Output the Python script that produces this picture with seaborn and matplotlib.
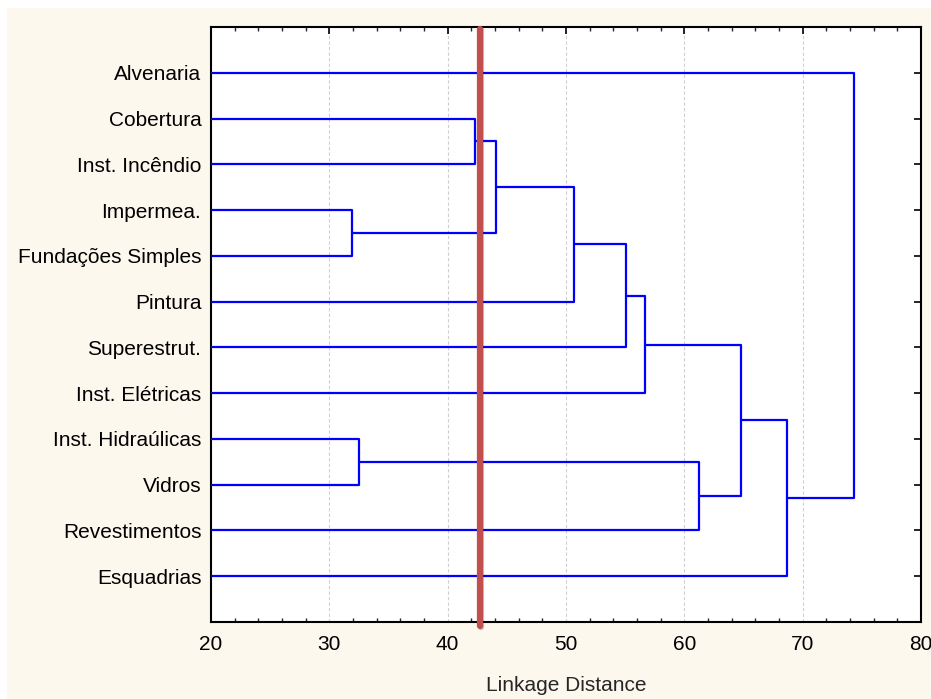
import pandas as pd
import seaborn as sns
import matplotlib.pyplot as plt
from matplotlib.patches import Rectangle
import matplotlib.patheffects as pe

# leaves, top to bottom
leaves = ['Alvenaria', 'Cobertura', 'Inst. Incêndio', 'Impermea.',
          'Fundações Simples', 'Pintura', 'Superestrut.', 'Inst. Elétricas',
          'Inst. Hidraúlicas', 'Vidros', 'Revestimentos', 'Esquadrias']

# merges: (child a, child b, linkage distance); ids >= 12 are clusters, in order
merge_a = [3, 8, 1, 14, 15, 16, 17, 13, 18, 20, 0]
merge_b = [4, 9, 2, 12, 5, 6, 7, 10, 19, 11, 21]
merge_dist = [31.9, 32.5, 42.3, 44.1, 50.7, 55.1, 56.7, 61.2, 64.8, 68.7, 74.3]

cut_dist = 42.7

sns.set_theme(style='white')
plt.rcParams['font.family'] = ['Liberation Sans', 'DejaVu Sans']

# build the U-shaped links
pos_x = {i: 0.0 for i in range(len(leaves))}
pos_y = {i: i + 1.0 for i in range(len(leaves))}
rows = []
for k, (a, b, d) in enumerate(zip(merge_a, merge_b, merge_dist)):
    cid = len(leaves) + k
    pts = [(pos_x[a], pos_y[a]), (d, pos_y[a]), (d, pos_y[b]), (pos_x[b], pos_y[b])]
    for x, y in pts:
        rows.append({'link': k, 'x': x, 'y': y})
    pos_x[cid] = d
    pos_y[cid] = (pos_y[a] + pos_y[b]) / 2
df = pd.DataFrame(rows)

fig = plt.figure(figsize=(9.31, 6.99), dpi=100)
fig.patch.set_facecolor('white')
fig.patches.append(Rectangle((7 / 931, 0), 1, 1 - 8 / 699, transform=fig.transFigure,
                             facecolor='#fdf8ee', edgecolor='none', zorder=-5))
ax = fig.add_axes([211 / 931, 1 - 622 / 699, 710 / 931, 595 / 699])
ax.set_zorder(5)
ax.set_facecolor('white')

sns.lineplot(data=df, x='x', y='y', units='link', estimator=None, sort=False,
             color='#0000ff', lw=1.6, ax=ax, zorder=3)

ax.axvline(cut_dist, ymin=-0.007, ymax=0.997, color='#c0504d', lw=4.5, clip_on=False,
           zorder=4, path_effects=[pe.SimpleLineShadow(offset=(1.2, -0.5), alpha=0.25),
                                   pe.Normal()])

ax.set_xlim(20, 80)
ax.set_ylim(len(leaves) + 1, 0)
ax.set_xticks(range(20, 81, 10))
ax.set_xticks(range(20, 81, 2), minor=True)
ax.set_yticks(range(1, len(leaves) + 1))
ax.set_yticklabels(leaves)
ax.xaxis.grid(True, which='major', color='#cfcfcf', ls=(0, (3, 2)), lw=0.8)
ax.set_axisbelow(True)

ax.tick_params(axis='both', which='major', direction='in', length=5, width=1.2,
               top=True, right=True, labelsize=15, colors='black')
ax.tick_params(axis='x', which='minor', direction='in', length=3, width=1,
               top=True, bottom=True)
ax.tick_params(axis='x', pad=9)
ax.tick_params(axis='y', pad=7)
for s in ax.spines.values():
    s.set_visible(True)
    s.set_color('black')
    s.set_linewidth(1.5)

ax.set_xlabel('Linkage Distance', fontsize=15, labelpad=16)
ax.set_ylabel('')

fig.savefig('out.png', dpi=100, facecolor=fig.get_facecolor())
